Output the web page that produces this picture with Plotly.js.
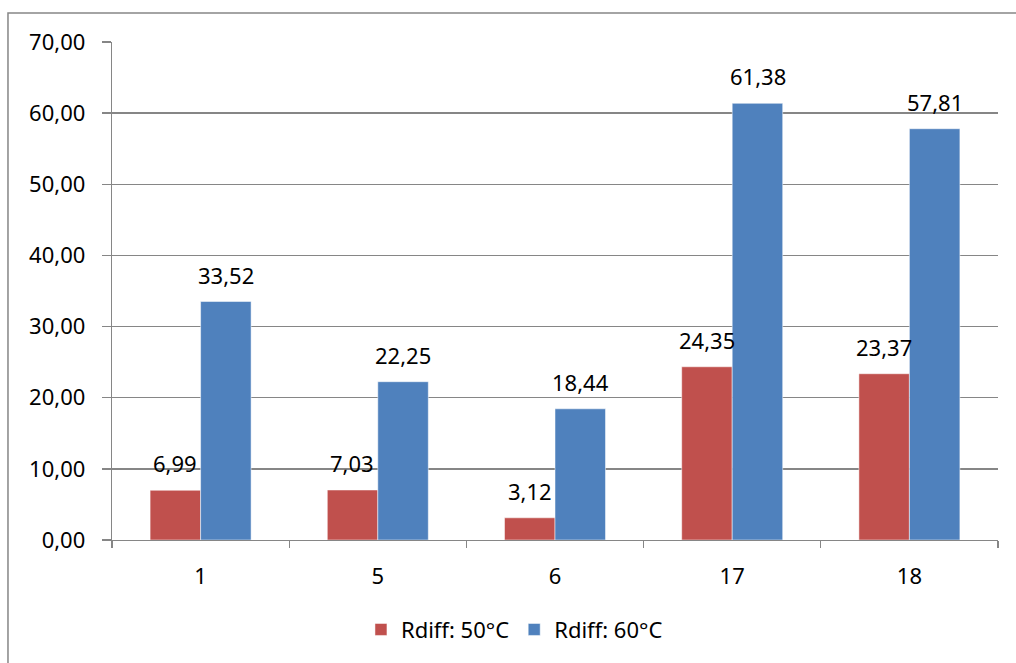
<!DOCTYPE html>
<html>
<head>
<meta charset="utf-8">
<script src="https://cdn.plot.ly/plotly-3.0.1.min.js"></script>
<style>html,body{margin:0;padding:0;background:#fff}#chart{width:1016px;height:663px}</style>
</head>
<body>
<div id="chart"></div>
<script>
const categories = ["1", "5", "6", "17", "18"];
const rdiff50 = [6.99, 7.03, 3.12, 24.35, 23.37];
const rdiff60 = [33.52, 22.25, 18.44, 61.38, 57.81];
const seriesNames = ["Rdiff: 50°C", "Rdiff: 60°C"];
const yTicks = [0, 10, 20, 30, 40, 50, 60, 70];

const FONT = "Noto Sans, Open Sans, sans-serif";
const fmt = v => v.toFixed(2).replace('.', ',');

const traces = [
  {type: 'bar', name: seriesNames[0], x: categories, y: rdiff50,
   marker: {color: '#C0504D', line: {color: '#ffffff', width: 0.5}}},
  {type: 'bar', name: seriesNames[1], x: categories, y: rdiff60,
   marker: {color: '#4F81BD', line: {color: '#ffffff', width: 0.5}}}
];

const annotations = [];
categories.forEach((c, i) => {
  annotations.push({x: i, y: rdiff50[i], xref: 'x', yref: 'y', text: fmt(rdiff50[i]),
    showarrow: false, xshift: -25.5, yshift: 27, yanchor: 'middle',
    font: {family: FONT, size: 22, color: '#000'}});
  annotations.push({x: i, y: rdiff60[i], xref: 'x', yref: 'y', text: fmt(rdiff60[i]),
    showarrow: false, xshift: 25.5, yshift: 27, yanchor: 'middle',
    font: {family: FONT, size: 22, color: '#000'}});
});

const layout = {
  width: 1016, height: 663,
  margin: {l: 112, r: 18, t: 42, b: 121},
  paper_bgcolor: '#ffffff', plot_bgcolor: '#ffffff',
  separators: ',.',
  barmode: 'group', bargap: 0.43, bargroupgap: 0,
  font: {family: FONT, size: 22, color: '#000'},
  xaxis: {type: 'category', range: [-0.5, categories.length - 0.5], autorange: false,
    showgrid: false, showline: true, linecolor: '#868686', linewidth: 1.3,
    ticks: 'outside', tickson: 'boundaries', ticklen: 7, tickcolor: '#868686', tickwidth: 1.3,
    ticklabelstandoff: 16, tickfont: {family: FONT, size: 22, color: '#000'}},
  yaxis: {range: [0, 70], autorange: false, tickvals: yTicks, tickformat: '.2f', showgrid: true, gridcolor: '#868686', gridwidth: 1.3,
    showline: true, linecolor: '#868686', linewidth: 1.3, zeroline: false,
    ticks: 'outside', ticklen: 9, tickcolor: '#868686', tickwidth: 1.3,
    ticklabelstandoff: 12, tickfont: {family: FONT, size: 22, color: '#000'}},
  showlegend: true,
  legend: {orientation: 'h', x: 0.281, xanchor: 'left', y: -0.18, yanchor: 'middle',
    font: {family: FONT, size: 22, color: '#000'}, itemwidth: 30, tracegroupgap: 0},
  annotations: annotations,
  shapes: [{type: 'rect', xref: 'paper', yref: 'paper', x0: -0.1174, x1: 1.03, y0: -0.26, y1: 1.058,
    line: {color: '#868686', width: 1.5}, fillcolor: 'rgba(0,0,0,0)', layer: 'below'}]
};

Plotly.newPlot('chart', traces, layout, {displayModeBar: false, staticPlot: true});
</script>
</body>
</html>
